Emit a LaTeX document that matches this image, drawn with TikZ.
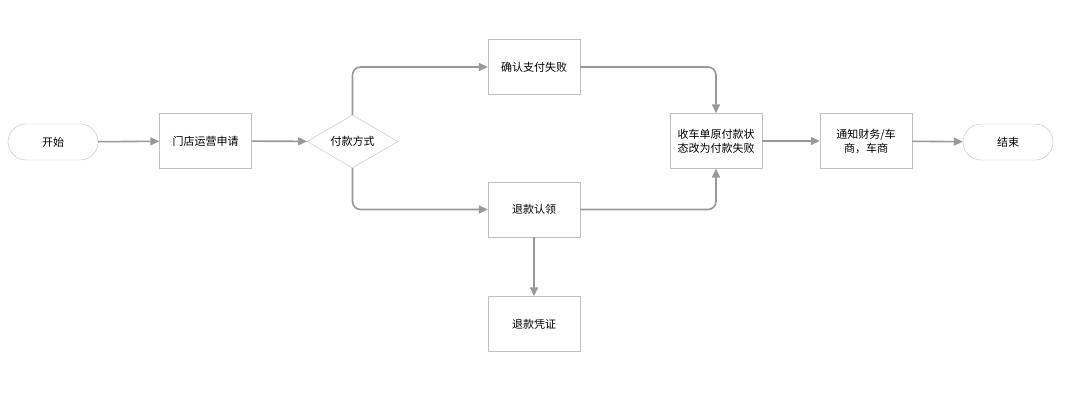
\documentclass[tikz,border=0pt]{standalone}
\usepackage{fontspec}
\setmainfont{Noto Sans CJK SC}
\usetikzlibrary{positioning,arrows.meta,shapes.geometric}

\begin{document}
\begin{tikzpicture}[
      x=1pt, y=-1pt,
      every node/.style = {font=\fontsize{11}{14}\selectfont},
      block/.style = {rectangle, draw=black!25, fill=white,
                      minimum width=92pt, minimum height=55pt,
                      align=center, inner sep=1pt},
      term/.style  = {rectangle, rounded corners=18pt, draw=black!25,
                      minimum width=90pt, minimum height=36pt},
      decide/.style = {diamond, draw=black!25, aspect=1.7,
                       minimum width=91pt, minimum height=53pt, inner sep=0pt},
      arrow/.style = {-{Triangle[length=9pt,width=8pt]}, draw=black!40,
                      line width=1.6pt, rounded corners=8pt}
    ]
    \useasboundingbox (0,0) rectangle (1070,417);
    % Nodes
    \node[term]   (start)   at (53,142)    {开始};
    \node[block]  (apply)   at (205.5,141) {门店运营申请};
    \node[decide] (pay)     at (352.5,141.5) {付款方式};
    \node[block]  (confirm) at (534,67)    {确认支付失败};
    \node[block]  (refund)  at (534,209.5) {退款认领};
    \node[block]  (voucher) at (534,324)   {退款凭证};
    \node[block]  (status)  at (716,141)   {收车单原付款状\\态改为付款失败};
    \node[block]  (notify)  at (866,141)   {通知财务/车\\商，车商};
    \node[term]   (stop)    at (1008,142)  {结束};

    % Arrows
    \draw[arrow] (start)  -- (apply);
    \draw[arrow] (apply)  -- (pay);
    \draw[arrow] (pay.north) |- (confirm);
    \draw[arrow] (pay.south) |- (refund);
    \draw[arrow] (confirm) -| (status);
    \draw[arrow] (refund)  -| (status);
    \draw[arrow] (refund)  -- (voucher);
    \draw[arrow] (status)  -- (notify);
    \draw[arrow] (notify)  -- (stop);
  \end{tikzpicture}
\end{document}
